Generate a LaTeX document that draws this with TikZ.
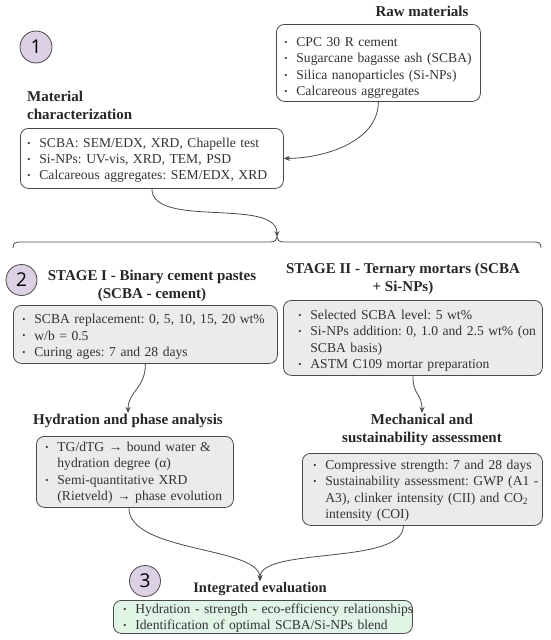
\documentclass[tikz,border=0pt]{standalone}
\usepackage{fontspec}
\setmainfont{Liberation Serif}
\newfontfamily\numfont{Open Sans}
\usetikzlibrary{arrows.meta}
\definecolor{linec}{HTML}{4A4A4A}
\definecolor{txtc}{HTML}{333333}
\definecolor{grayf}{HTML}{EBEBEB}
\definecolor{greenf}{HTML}{E1F5E7}
\definecolor{purf}{HTML}{DCD0E4}
\frenchspacing
\newcommand\bu{\makebox[12pt][l]{\raisebox{1.2pt}{\fontsize{9}{9}\selectfont\textbullet}}}
\newcommand\bl[1]{\mbox{\bu #1}}
\newcommand\cl[1]{\mbox{\hspace*{12pt}#1}}
\newcommand\vsk[1]{\rule{0pt}{#1}}
\begin{document}
\begin{tikzpicture}[x=1pt,y=-1pt,
  bx/.style={draw=linec, line width=0.8pt, rounded corners=8pt, anchor=north west, align=left, inner ysep=0pt, text=txtc, font=\fontsize{13.6}{16.3}\selectfont\frenchspacing},
  ttl/.style={font=\bfseries\fontsize{15}{18}\selectfont\frenchspacing, text=black!85, inner sep=1pt},
  num/.style={circle, draw=linec, line width=0.8pt, fill=purf, minimum size=31pt, inner sep=0pt, font=\numfont\fontsize{19}{19}\selectfont},
  conn/.style={draw=linec, line width=0.8pt, -{Stealth[length=6pt,width=5pt]}}
]
\useasboundingbox (0,0) rectangle (550,640);

% numbers
\node[num, minimum size=32pt] (n1) at (36,47) {1};
\node[num] (n2) at (21.5,280) {2};
\node[num] (n3) at (145,581) {3};

% titles
\node[ttl] (rawt) at (422,11) {Raw materials};
\node[ttl, align=left, anchor=west] (mct) at (26,105.5) {Material\\characterization};
\node[ttl, align=center] (s1t) at (152,286) {STAGE I - Binary cement pastes\\(SCBA - cement)};
\node[ttl, align=center] (s2t) at (403,278.5) {STAGE II - Ternary mortars (SCBA\\+ Si-NPs)};
\node[ttl] (hydt) at (128,421) {Hydration and phase analysis};
\node[ttl, align=center] (mecht) at (422,430) {Mechanical and\\sustainability assessment};
\node[ttl, font=\bfseries\fontsize{14.5}{18}\selectfont] (intt) at (260,589) {Integrated evaluation};

% boxes
\node[bx, fill=white, minimum width=204pt, minimum height=77pt, inner xsep=8pt, text width=188pt] (raw) at (276,24)
  {\vsk{19.3pt}\bl{CPC 30 R cement}\\\bl{Sugarcane bagasse ash (SCBA)}\\\bl{Silica nanoparticles (Si-NPs)}\\\bl{Calcareous aggregates}};
\node[bx, fill=white, minimum width=263pt, minimum height=60pt, inner xsep=7pt, text width=249pt] (matchar) at (20,128)
  {\vsk{13.3pt}\bl{SCBA: SEM/EDX, XRD, Chapelle test}\\\bl{Si-NPs: UV-vis, XRD, TEM, PSD}\\\bl{Calcareous aggregates: SEM/EDX, XRD}};
\node[bx, fill=grayf, minimum width=264pt, minimum height=58pt, inner xsep=9pt, text width=246pt] (stage1) at (13,305)
  {\vsk{14.3pt}\bl{SCBA replacement: 0, 5, 10, 15, 20 wt\%}\\\bl{w/b = 0.5}\\\bl{Curing ages: 7 and 28 days}};
\node[bx, fill=grayf, minimum width=259pt, minimum height=75pt, inner xsep=15pt, text width=229pt] (stage2) at (283,300)
  {\vsk{15.3pt}\bl{Selected SCBA level: 5 wt\%}\\\bl{Si-NPs addition: 0, 1.0 and 2.5 wt\% (on}\\\cl{SCBA basis)}\\\bl{ASTM C109 mortar preparation}};
\node[bx, fill=grayf, minimum width=197pt, minimum height=71pt, inner xsep=9pt, text width=179pt] (hyd) at (36,436)
  {\vsk{11.3pt}\bl{TG/dTG → bound water \&}\\\cl{hydration degree (α)}\\\bl{Semi-quantitative XRD}\\\cl{(Rietveld) → phase evolution}};
\node[bx, fill=grayf, minimum width=240pt, minimum height=72pt, inner xsep=11pt, text width=218pt] (mech) at (302,453)
  {\vsk{12.3pt}\bl{Compressive strength: 7 and 28 days}\\\bl{Sustainability assessment: GWP (A1 -}\\\cl{A3), clinker intensity (CII) and CO\textsubscript{2}}\\\cl{intensity (COI)}};
\node[bx, fill=greenf, minimum width=299pt, minimum height=33pt, inner xsep=10pt, text width=279pt] (integ) at (113,600)
  {\vsk{12.3pt}\bl{Hydration - strength - eco-efficiency relationships}\\\bl{Identification of optimal SCBA/Si-NPs blend}};

% brace
\coordinate (btip) at (277,237);
\draw[linec, line width=0.8pt] (13,248) .. controls (13,243) and (15,242) .. (20,242) -- (270,242)
  .. controls (275,242) and (277,240) .. (btip) .. controls (277,240) and (279,242) .. (284,242)
  -- (534,242) .. controls (539,242) and (541,243) .. (541,248);

% connectors
\draw[conn] (raw.south) .. controls +(0,40) and +(40,0) .. (matchar.east);
\draw[conn] (matchar.south) .. controls +(0,40) and +(0,-40) .. (btip);
\draw[conn] (stage1.south) .. controls +(0,25) and +(0,-22) .. (hydt.north);
\draw[conn] (stage2.south) .. controls +(0,20) and +(0,-20) .. (mecht.north);
\draw[conn] ([xshift=-6pt]hyd.south) .. controls +(0,45) and +(0,-35) .. (intt.north);
\draw[conn] ([xshift=-19pt]mech.south) .. controls +(0,40) and +(0,-35) .. (intt.north);
\end{tikzpicture}
\end{document}
